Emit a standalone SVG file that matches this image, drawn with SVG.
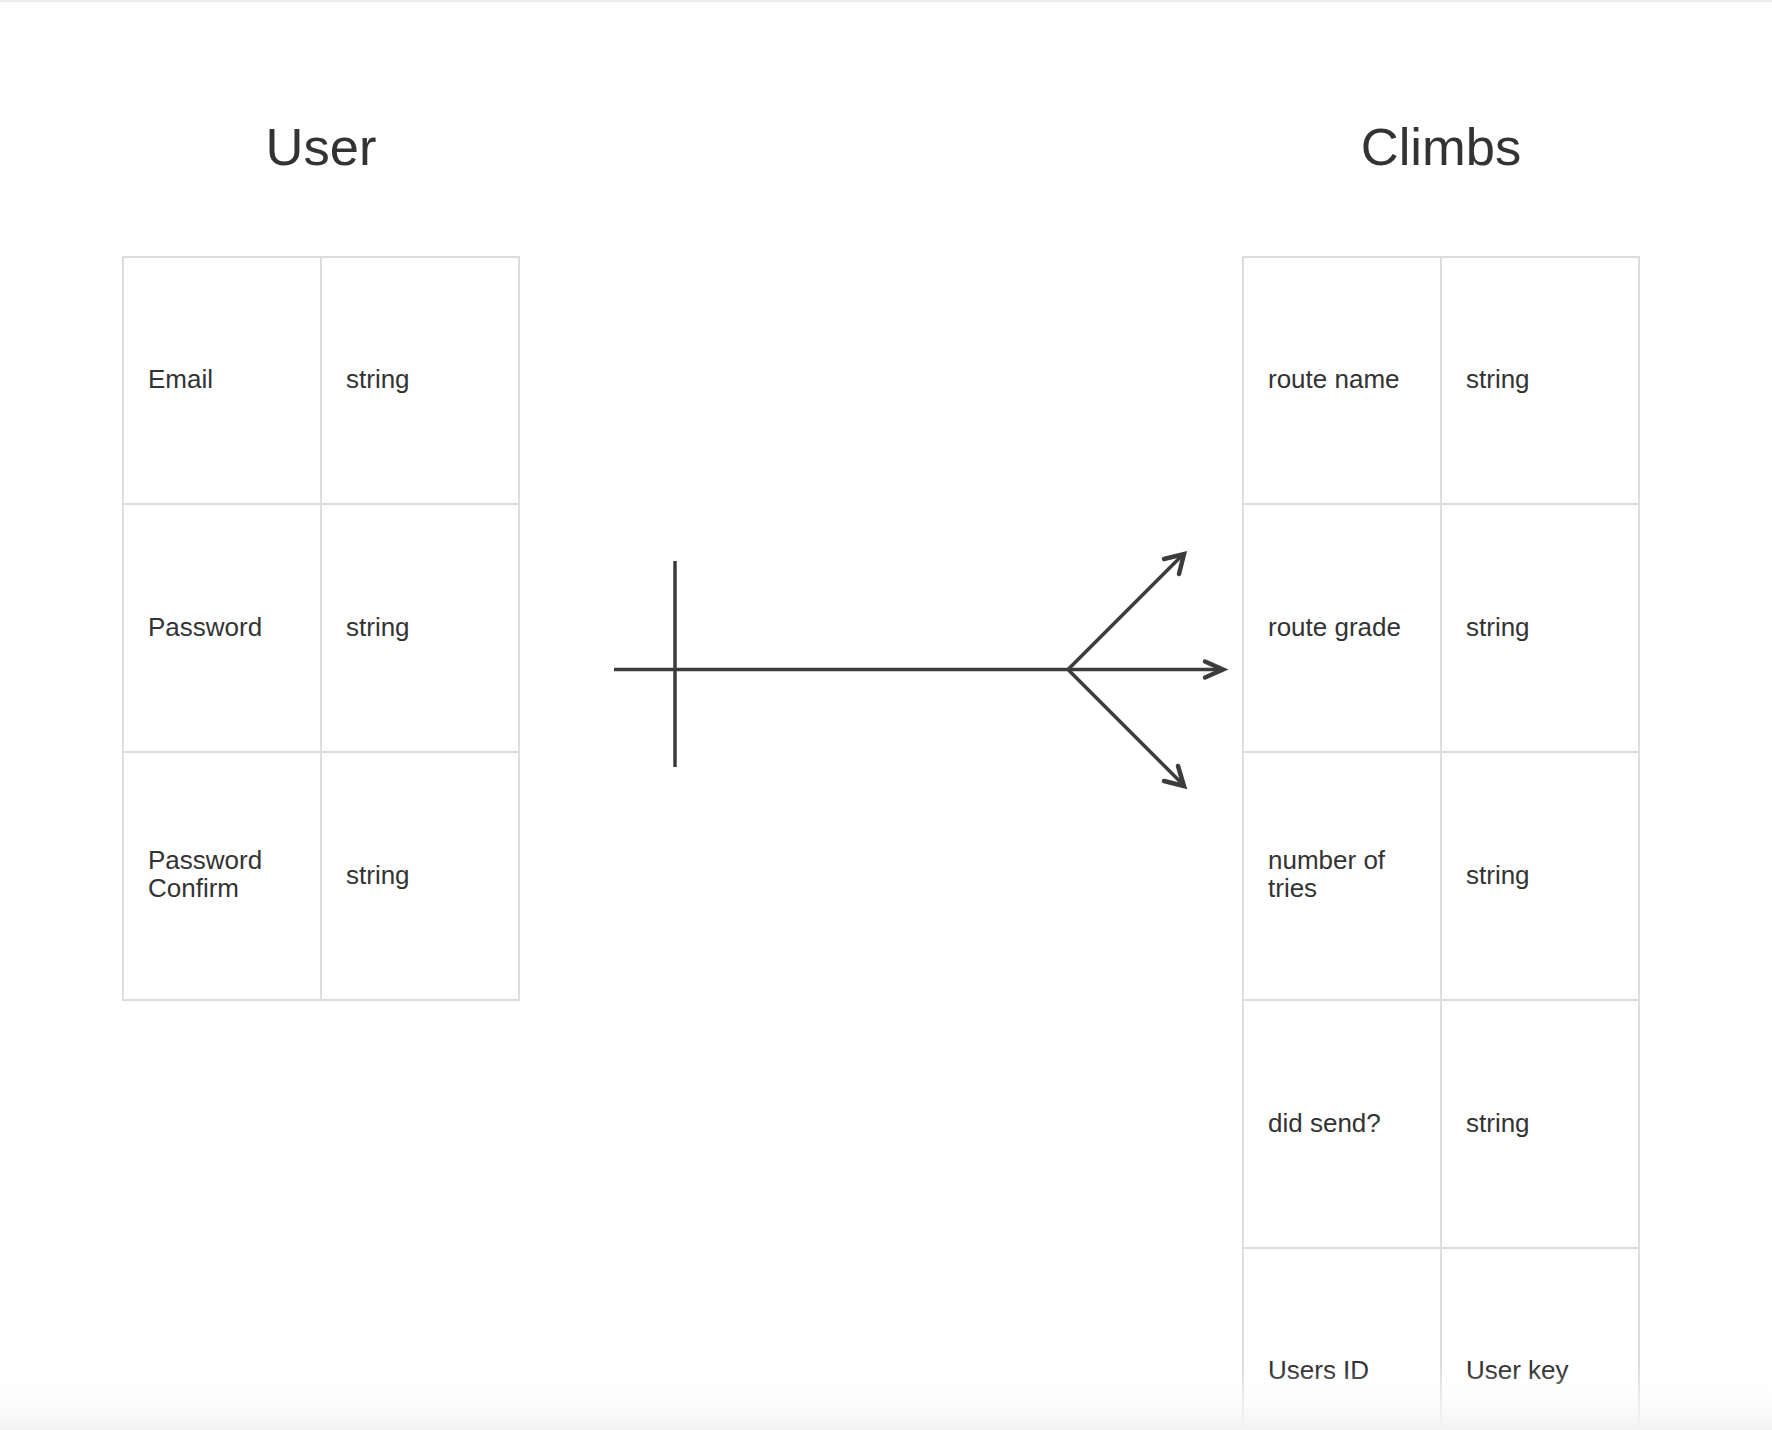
<svg xmlns="http://www.w3.org/2000/svg" width="1772" height="1430" viewBox="0 0 1772 1430">
<defs>
<style>
.title{font-family:"Liberation Sans",Arial,sans-serif;font-size:52.5px;fill:#333;text-anchor:middle}
.cell{font-family:"Liberation Sans",Arial,sans-serif;font-size:26px;fill:#333}
.grid{fill:none;stroke:#dddddd;stroke-width:2}
.conn{fill:none;stroke:#3c3c3c;stroke-width:3.5;stroke-linecap:butt}
.head{fill:none;stroke:#3c3c3c;stroke-width:4.5;stroke-linecap:round;stroke-linejoin:miter}
</style>
<linearGradient id="fade" x1="0" y1="0" x2="0" y2="1">
<stop offset="0" stop-color="#ffffff" stop-opacity="0"/>
<stop offset="1" stop-color="#f3f3f3" stop-opacity="1"/>
</linearGradient>
</defs>
<rect x="0" y="0" width="1772" height="1430" fill="#ffffff"/>
<rect x="0" y="0" width="1772" height="2" fill="#ececec"/>

<g id="user">
<text class="title" x="321" y="165">User</text>
<rect class="grid" x="123" y="257" width="396" height="743"/>
<line class="grid" x1="321" y1="257" x2="321" y2="1000"/>
<line class="grid" x1="123" y1="504" x2="519" y2="504"/>
<line class="grid" x1="123" y1="752" x2="519" y2="752"/>
<text class="cell" x="148" y="388">Email</text>
<text class="cell" x="346" y="388">string</text>
<text class="cell" x="148" y="636">Password</text>
<text class="cell" x="346" y="636">string</text>
<text class="cell" x="148" y="869">Password</text>
<text class="cell" x="148" y="897">Confirm</text>
<text class="cell" x="346" y="884">string</text>
</g>

<g id="climbs">
<text class="title" x="1441" y="165">Climbs</text>
<rect class="grid" x="1243" y="257" width="396" height="1240"/>
<line class="grid" x1="1441" y1="257" x2="1441" y2="1497"/>
<line class="grid" x1="1243" y1="504" x2="1639" y2="504"/>
<line class="grid" x1="1243" y1="752" x2="1639" y2="752"/>
<line class="grid" x1="1243" y1="1000" x2="1639" y2="1000"/>
<line class="grid" x1="1243" y1="1248" x2="1639" y2="1248"/>
<text class="cell" x="1268" y="388">route name</text>
<text class="cell" x="1466" y="388">string</text>
<text class="cell" x="1268" y="636">route grade</text>
<text class="cell" x="1466" y="636">string</text>
<text class="cell" x="1268" y="869">number of</text>
<text class="cell" x="1268" y="897">tries</text>
<text class="cell" x="1466" y="884">string</text>
<text class="cell" x="1268" y="1132">did send?</text>
<text class="cell" x="1466" y="1132">string</text>
<text class="cell" x="1268" y="1379">Users ID</text>
<text class="cell" x="1466" y="1379">User key</text>
</g>

<g id="connectors">
<line class="conn" x1="614" y1="669.5" x2="1222" y2="669.5"/>
<line class="conn" x1="675" y1="561" x2="675" y2="767"/>
<line class="conn" x1="1068" y1="669.5" x2="1182" y2="555.5"/>
<line class="conn" x1="1068" y1="669.5" x2="1182" y2="783.5"/>
<polyline class="head" points="1205,661.5 1223,669.5 1205,677.5"/>
<polyline class="head" points="1164,559 1184,554 1179,574"/>
<polyline class="head" points="1178,766 1184,786 1164,781"/>
</g>

<rect x="0" y="1370" width="1772" height="60" fill="url(#fade)"/>
</svg>
